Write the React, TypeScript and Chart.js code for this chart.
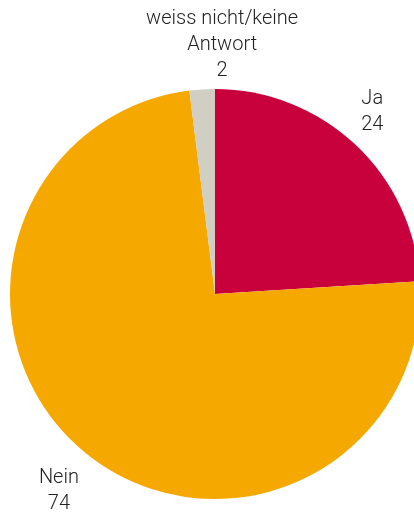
import React, { useEffect, useRef } from "react";
import { Chart, registerables } from "chart.js";

Chart.register(...registerables);

const categories: string[][] = [["Ja"], ["Nein"], ["weiss nicht/keine", "Antwort"]];
const values: number[] = [24, 74, 2];
const colors: string[] = ["#c8003c", "#f5a800", "#d1cfc3"];

const labelPlugin = {
  id: "outerLabels",
  afterDraw(chart: any) {
    const ctx = chart.ctx;
    const meta = chart.getDatasetMeta(0);
    const nudges = [[-5, 1], [-5, 4], [22, 2]];
    ctx.save();
    ctx.font = "300 20px Roboto, 'Liberation Sans', sans-serif";
    ctx.fillStyle = "#222222";
    ctx.textAlign = "center";
    ctx.textBaseline = "middle";
    const lh = 26;
    meta.data.forEach((arc: any, i: number) => {
      const mid = (arc.startAngle + arc.endAngle) / 2;
      const cx = arc.x + Math.cos(mid) * 237 + nudges[i][0];
      const cy = arc.y + Math.sin(mid) * 251 + nudges[i][1];
      const lines = [...categories[i], String(values[i])];
      const top = cy - ((lines.length - 1) * lh) / 2;
      lines.forEach((t, k) => ctx.fillText(t, cx, top + k * lh));
    });
    ctx.restore();
  },
};

export default function App() {
  const ref = useRef<HTMLCanvasElement>(null);
  useEffect(() => {
    document.body.style.margin = "0";
    const chart = new Chart(ref.current!, {
      type: "pie",
      data: {
        labels: categories.map((c) => c.join(" ")),
        datasets: [{ data: values, backgroundColor: colors, borderWidth: 0 }],
      },
      options: {
        animation: false,
        responsive: false,
        layout: { padding: { left: 10, right: 10, top: 89, bottom: 14 } },
        plugins: { legend: { display: false }, tooltip: { enabled: false } },
      },
      plugins: [labelPlugin],
    });
    return () => chart.destroy();
  }, []);
  return (
    <div style={{ position: "absolute", left: 0, top: 0, width: 414, height: 513, overflow: "hidden", background: "#fff" }}>
      <canvas ref={ref} width={430} height={513} style={{ width: 430, height: 513, display: "block" }} />
    </div>
  );
}
